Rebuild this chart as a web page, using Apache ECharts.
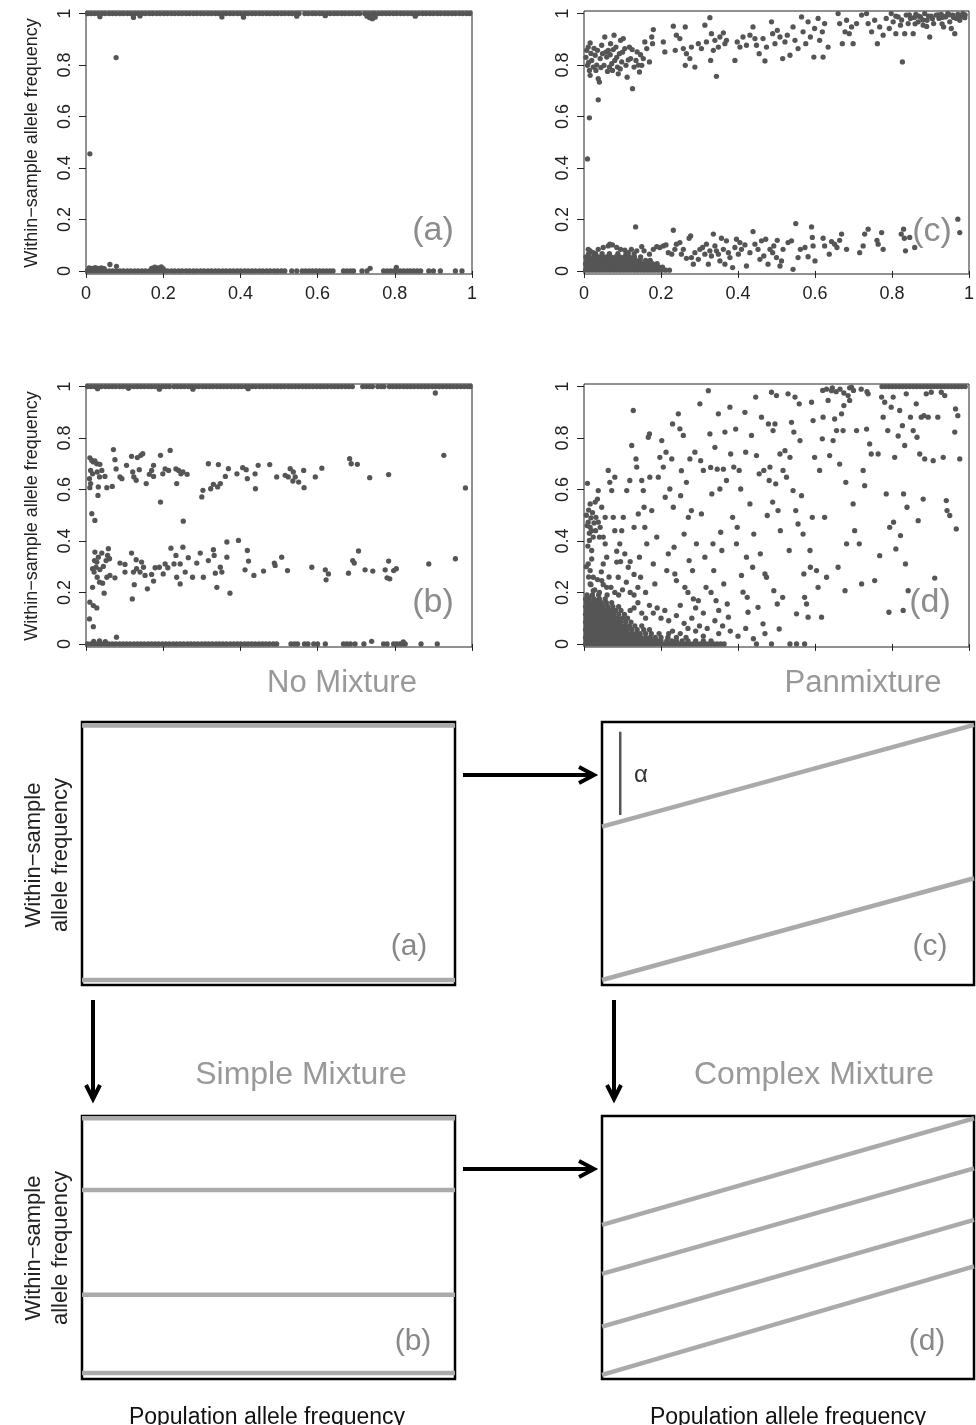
<!DOCTYPE html>
<html>
<head>
<meta charset="utf-8">
<script src="https://cdn.jsdelivr.net/npm/echarts@6/dist/echarts.min.js"></script>
<style>
html, body { margin: 0; padding: 0; background: #fff; }
#main { width: 976px; height: 1425px; }
</style>
</head>
<body>
<div id="main"></div>
<script>
// ---- data ----
var tickValues = [0, 0.2, 0.4, 0.6, 0.8, 1];

// (a) no mixture: points sitting on 1 and on 0, plus the few strays
var aTopX = [0.004,0.013,0.022,0.031,0.041,0.05,0.06,0.069,0.078,0.088,0.097,0.107,0.116,0.126,0.135,0.145,0.154,0.164,0.173,0.183,0.192,0.202,0.211,0.221,0.23,0.24,0.249,0.259,0.268,0.278,0.287,0.297,0.306,0.316,0.325,0.335,0.344,0.354,0.363,0.373,0.382,0.392,0.401,0.411,0.42,0.43,0.439,0.449,0.458,0.468,0.477,0.487,0.496,0.506,0.515,0.525,0.534,0.544,0.552,0.567,0.576,0.586,0.595,0.605,0.614,0.624,0.633,0.643,0.652,0.662,0.671,0.681,0.69,0.7,0.709,0.722,0.731,0.741,0.748,0.758,0.767,0.777,0.786,0.796,0.805,0.815,0.824,0.834,0.843,0.853,0.862,0.872,0.881,0.891,0.9,0.91,0.919,0.929,0.938,0.948,0.957,0.967,0.976,0.986,0.994];
var aBottomX = [0.004,0.013,0.022,0.031,0.041,0.05,0.06,0.069,0.078,0.088,0.097,0.107,0.116,0.126,0.135,0.145,0.154,0.164,0.173,0.183,0.192,0.202,0.211,0.221,0.23,0.24,0.249,0.259,0.268,0.278,0.287,0.297,0.306,0.316,0.325,0.335,0.344,0.354,0.363,0.373,0.382,0.392,0.401,0.411,0.42,0.43,0.439,0.449,0.458,0.468,0.477,0.487,0.496,0.506,0.515,0.533,0.546,0.56,0.569,0.578,0.587,0.596,0.605,0.614,0.623,0.632,0.64,0.667,0.676,0.685,0.693,0.715,0.728,0.771,0.78,0.789,0.798,0.806,0.814,0.823,0.832,0.84,0.849,0.858,0.867,0.888,0.9,0.918,0.957,0.974];
var aOther = [[0.036,0.988],[0.123,0.985],[0.14,0.991],[0.352,0.987],[0.408,0.986],[0.546,0.99],[0.62,0.992],[0.728,0.99],[0.735,0.984],[0.742,0.98],[0.749,0.986],[0.853,0.99],
  [0.008,0.012],[0.016,0.01],[0.024,0.013],[0.032,0.01],[0.04,0.012],[0.047,0.009],[0.062,0.025],[0.079,0.018],[0.17,0.01],[0.178,0.015],[0.186,0.012],[0.195,0.016],[0.2,0.009],[0.736,0.01],[0.804,0.014],
  [0.01,0.455],[0.078,0.829]];

// (b) simple mixture
var bTopX = [0.004,0.013,0.022,0.031,0.04,0.05,0.059,0.068,0.077,0.087,0.096,0.105,0.114,0.124,0.133,0.142,0.151,0.161,0.17,0.179,0.188,0.198,0.207,0.216,0.228,0.237,0.246,0.255,0.265,0.274,0.283,0.292,0.302,0.311,0.32,0.329,0.339,0.348,0.357,0.366,0.376,0.385,0.394,0.403,0.413,0.422,0.431,0.44,0.45,0.459,0.468,0.477,0.487,0.496,0.505,0.514,0.524,0.533,0.542,0.551,0.561,0.57,0.579,0.588,0.598,0.607,0.616,0.625,0.635,0.644,0.653,0.662,0.672,0.681,0.69,0.717,0.726,0.735,0.742,0.756,0.765,0.772,0.786,0.795,0.804,0.813,0.823,0.832,0.841,0.85,0.86,0.869,0.878,0.887,0.897,0.906,0.915,0.924,0.934,0.943,0.952,0.961,0.971,0.98,0.989,0.995];
var bBottomX = [0.004,0.013,0.022,0.031,0.04,0.05,0.059,0.068,0.077,0.087,0.096,0.105,0.114,0.124,0.133,0.142,0.151,0.161,0.17,0.179,0.188,0.198,0.207,0.216,0.226,0.235,0.244,0.253,0.263,0.272,0.281,0.29,0.3,0.309,0.318,0.327,0.337,0.346,0.355,0.364,0.374,0.383,0.392,0.401,0.411,0.42,0.429,0.438,0.448,0.457,0.466,0.475,0.485,0.494,0.531,0.54,0.548,0.566,0.575,0.59,0.6,0.62,0.667,0.676,0.685,0.697,0.72,0.771,0.78,0.797,0.805,0.813,0.82,0.827,0.868,0.91];
var bOther = [[0.03,0.992],[0.11,0.993],[0.19,0.99],[0.277,0.99],[0.42,0.992],[0.905,0.975],
  [0.02,0.01],[0.035,0.012],[0.05,0.009],[0.079,0.026],[0.74,0.01],[0.822,0.008],
  [0.01,0.723],[0.015,0.713],[0.019,0.707],[0.023,0.711],[0.028,0.7],[0.012,0.674],[0.017,0.661],[0.009,0.642],[0.012,0.623],[0.01,0.607],[0.029,0.668],[0.035,0.649],[0.032,0.61],[0.036,0.698],[0.041,0.674],[0.049,0.651],[0.054,0.607],[0.031,0.577],[0.068,0.612],[0.071,0.755],[0.075,0.716],[0.078,0.68],[0.088,0.649],[0.093,0.642],[0.105,0.694],[0.118,0.729],[0.121,0.668],[0.124,0.649],[0.13,0.636],[0.133,0.724],[0.138,0.677],[0.142,0.733],[0.147,0.739],[0.156,0.623],[0.164,0.659],[0.17,0.674],[0.175,0.694],[0.175,0.651],[0.193,0.733],[0.193,0.551],[0.199,0.661],[0.205,0.68],[0.218,0.752],[0.214,0.674],[0.233,0.68],[0.235,0.623],[0.24,0.674],[0.246,0.661],[0.251,0.668],[0.262,0.659],[0.3,0.571],[0.303,0.597],[0.317,0.7],[0.323,0.603],[0.33,0.62],[0.343,0.697],[0.341,0.61],[0.348,0.623],[0.361,0.651],[0.369,0.681],[0.391,0.661],[0.406,0.685],[0.415,0.677],[0.418,0.642],[0.438,0.661],[0.439,0.603],[0.446,0.694],[0.476,0.697],[0.494,0.649],[0.516,0.655],[0.524,0.649],[0.529,0.681],[0.537,0.668],[0.542,0.649],[0.536,0.633],[0.551,0.629],[0.564,0.674],[0.565,0.607],[0.594,0.649],[0.611,0.683],[0.683,0.72],[0.687,0.7],[0.703,0.698],[0.735,0.646],[0.784,0.658],[0.927,0.733],[0.983,0.606],
  [0.015,0.506],[0.023,0.48],[0.009,0.097],[0.01,0.162],[0.019,0.149],[0.028,0.14],[0.019,0.067],
  [0.017,0.22],[0.023,0.357],[0.022,0.324],[0.017,0.292],[0.021,0.279],[0.028,0.318],[0.026,0.298],[0.032,0.337],[0.029,0.259],[0.036,0.289],[0.035,0.24],[0.041,0.353],[0.045,0.301],[0.043,0.236],[0.047,0.197],[0.052,0.324],[0.056,0.344],[0.058,0.37],[0.061,0.331],[0.054,0.259],[0.062,0.266],[0.075,0.257],[0.088,0.314],[0.101,0.309],[0.101,0.279],[0.118,0.353],[0.12,0.175],[0.123,0.279],[0.125,0.23],[0.13,0.327],[0.131,0.292],[0.14,0.279],[0.144,0.318],[0.149,0.298],[0.153,0.266],[0.159,0.214],[0.17,0.27],[0.175,0.244],[0.179,0.296],[0.19,0.298],[0.2,0.272],[0.205,0.311],[0.212,0.296],[0.22,0.372],[0.228,0.311],[0.233,0.344],[0.235,0.259],[0.244,0.233],[0.244,0.311],[0.251,0.376],[0.252,0.477],[0.257,0.279],[0.265,0.335],[0.276,0.259],[0.287,0.314],[0.296,0.353],[0.304,0.259],[0.317,0.324],[0.33,0.366],[0.332,0.344],[0.335,0.275],[0.339,0.22],[0.348,0.298],[0.352,0.279],[0.365,0.396],[0.373,0.197],[0.365,0.337],[0.395,0.402],[0.412,0.288],[0.418,0.363],[0.421,0.322],[0.435,0.266],[0.46,0.283],[0.488,0.314],[0.49,0.305],[0.507,0.337],[0.522,0.285],[0.585,0.298],[0.62,0.288],[0.622,0.249],[0.628,0.272],[0.68,0.275],[0.691,0.324],[0.695,0.314],[0.706,0.361],[0.723,0.288],[0.743,0.283],[0.775,0.288],[0.78,0.257],[0.784,0.322],[0.787,0.253],[0.797,0.285],[0.804,0.292],[0.888,0.311],[0.957,0.331]];

// (c) complex mixture: upper arm, dense foot near 0, lower arm
var cUpper = [[0.007,0.857],[0.011,0.87],[0.016,0.886],[0.009,0.799],[0.014,0.779],[0.02,0.818],[0.024,0.792],[0.016,0.76],[0.029,0.838],[0.031,0.779],[0.035,0.857],[0.037,0.747],[0.04,0.734],[0.042,0.825],[0.046,0.877],[0.048,0.844],[0.052,0.799],[0.054,0.909],[0.059,0.831],[0.063,0.857],[0.066,0.792],[0.069,0.883],[0.072,0.805],[0.074,0.779],[0.078,0.916],[0.08,0.818],[0.083,0.87],[0.087,0.792],[0.089,0.766],[0.092,0.844],[0.095,0.896],[0.098,0.812],[0.102,0.903],[0.106,0.864],[0.109,0.799],[0.112,0.753],[0.118,0.87],[0.121,0.825],[0.126,0.708],[0.13,0.792],[0.135,0.818],[0.138,0.851],[0.144,0.773],[0.15,0.799],[0.154,0.825],[0.158,0.89],[0.163,0.864],[0.17,0.812],[0.176,0.909],[0.18,0.938],[0.178,0.883],
  [0.005,0.83],[0.012,0.81],[0.018,0.845],[0.026,0.865],[0.033,0.8],[0.044,0.79],[0.057,0.85],[0.061,0.775],[0.068,0.84],[0.076,0.86],[0.085,0.83],[0.094,0.785],[0.1,0.85],[0.115,0.82],[0.125,0.86],[0.141,0.8],[0.147,0.84],
  [0.206,0.89],[0.21,0.851],[0.232,0.951],[0.237,0.857],[0.24,0.916],[0.249,0.903],[0.258,0.864],[0.263,0.948],[0.263,0.799],[0.266,0.844],[0.275,0.825],[0.279,0.87],[0.288,0.792],[0.297,0.883],[0.305,0.864],[0.314,0.955],[0.318,0.89],[0.327,0.984],[0.329,0.818],[0.331,0.922],[0.336,0.857],[0.34,0.896],[0.344,0.756],[0.349,0.87],[0.353,0.909],[0.362,0.925],[0.366,0.883],[0.37,0.896],[0.392,0.818],[0.398,0.89],[0.405,0.87],[0.413,0.909],[0.422,0.877],[0.431,0.916],[0.439,0.948],[0.444,0.903],[0.448,0.877],[0.455,0.844],[0.465,0.903],[0.47,0.816],[0.474,0.87],[0.487,0.968],[0.49,0.922],[0.496,0.883],[0.502,0.935],[0.509,0.909],[0.516,0.825],[0.522,0.89],[0.528,0.916],[0.535,0.838],[0.543,0.948],[0.548,0.896],[0.556,0.864],[0.565,0.987],[0.569,0.929],[0.576,0.883],[0.582,0.968],[0.588,0.909],[0.597,0.831],[0.599,0.942],[0.608,0.981],[0.612,0.896],[0.619,0.929],[0.621,0.831],[0.625,0.961],[0.634,0.87],[0.66,1.0],[0.664,0.961],[0.671,0.883],[0.678,0.929],[0.682,0.974],[0.689,0.922],[0.695,0.948],[0.699,0.883],[0.708,0.961],[0.721,0.994],[0.734,1.0],[0.738,0.961],[0.747,0.929],[0.755,0.974],[0.762,0.883],[0.768,0.948],[0.777,0.916],[0.785,0.981],[0.793,0.942],[0.798,1.0],[0.803,0.968],[0.81,0.922],[0.816,0.987],[0.822,0.955],[0.827,0.812],[0.833,0.922],[0.837,0.994],[0.842,0.961],[0.848,0.981],[0.855,0.922],[0.862,0.997],[0.868,0.968],[0.874,0.987],[0.881,0.955],[0.885,1.0],[0.891,0.974],[0.898,0.909],[0.902,0.99],[0.908,0.961],[0.915,0.994],[0.922,0.981],[0.928,0.997],[0.934,0.948],[0.939,0.987],[0.945,1.0],[0.95,0.968],[0.954,0.942],[0.958,0.994],[0.963,0.922],[0.967,0.981],[0.971,0.997],[0.976,0.974],[0.98,0.99],[0.984,1.0],[0.989,0.984],
  [0.81,0.99],[0.825,0.975],[0.845,0.995],[0.858,0.985],[0.87,0.99],[0.88,0.975],[0.895,0.99],[0.905,0.98],[0.92,0.995],[0.93,0.985],[0.94,0.99],[0.95,0.995],[0.96,0.985],[0.975,0.99],[0.99,0.995],[0.86,0.96],[0.89,0.95],[0.93,0.96],
  [0.014,0.595],[0.009,0.435],[0.037,0.665]];
var cFootRows = [
  [0.003, [0.004,0.013,0.022,0.031,0.04,0.049,0.058,0.067,0.076,0.085,0.094,0.103,0.112,0.121,0.13,0.139,0.148,0.157,0.166,0.175,0.184,0.193,0.202,0.212,0.222]],
  [0.015, [0.006,0.015,0.024,0.033,0.042,0.051,0.06,0.069,0.078,0.087,0.096,0.105,0.114,0.123,0.132,0.141,0.15,0.159,0.168,0.177,0.186,0.195,0.204]],
  [0.028, [0.004,0.013,0.022,0.031,0.04,0.049,0.058,0.067,0.076,0.085,0.094,0.103,0.112,0.121,0.13,0.139,0.148,0.157,0.166,0.178,0.19]],
  [0.041, [0.007,0.016,0.025,0.034,0.043,0.052,0.061,0.07,0.079,0.088,0.097,0.106,0.115,0.124,0.135,0.146,0.16,0.172]],
  [0.054, [0.005,0.014,0.026,0.037,0.048,0.058,0.07,0.082,0.093,0.105,0.118,0.131,0.147]],
  [0.067, [0.012,0.03,0.047,0.066,0.088,0.109,0.13]]
];
var cLower = [[0.011,0.084],[0.016,0.078],[0.024,0.071],[0.037,0.084],[0.05,0.091],[0.063,0.097],[0.067,0.104],[0.074,0.101],[0.085,0.091],[0.095,0.084],[0.106,0.081],[0.115,0.071],[0.123,0.084],[0.134,0.171],[0.137,0.078],[0.15,0.094],[0.156,0.078],[0.17,0.065],[0.18,0.084],[0.189,0.094],[0.197,0.091],[0.206,0.097],[0.213,0.101],[0.219,0.071],[0.232,0.158],[0.228,0.065],[0.236,0.084],[0.24,0.104],[0.249,0.11],[0.253,0.065],[0.258,0.084],[0.266,0.049],[0.273,0.127],[0.277,0.136],[0.279,0.052],[0.284,0.026],[0.288,0.071],[0.297,0.045],[0.301,0.084],[0.308,0.091],[0.314,0.065],[0.318,0.104],[0.323,0.026],[0.327,0.078],[0.331,0.058],[0.336,0.143],[0.34,0.097],[0.344,0.078],[0.349,0.065],[0.353,0.039],[0.357,0.127],[0.362,0.084],[0.366,0.026],[0.37,0.117],[0.375,0.071],[0.379,0.052],[0.386,0.013],[0.392,0.091],[0.396,0.123],[0.401,0.065],[0.405,0.11],[0.409,0.084],[0.418,0.101],[0.422,0.019],[0.431,0.071],[0.439,0.153],[0.444,0.104],[0.452,0.084],[0.457,0.045],[0.461,0.117],[0.467,0.058],[0.472,0.123],[0.478,0.026],[0.483,0.084],[0.49,0.071],[0.493,0.097],[0.5,0.052],[0.502,0.119],[0.509,0.019],[0.513,0.039],[0.517,0.084],[0.53,0.11],[0.539,0.117],[0.543,0.006],[0.55,0.184],[0.556,0.052],[0.562,0.084],[0.574,0.091],[0.582,0.055],[0.591,0.171],[0.593,0.13],[0.595,0.097],[0.6,0.039],[0.621,0.127],[0.625,0.097],[0.637,0.065],[0.643,0.114],[0.651,0.104],[0.657,0.091],[0.664,0.119],[0.669,0.143],[0.682,0.084],[0.716,0.071],[0.725,0.097],[0.729,0.143],[0.738,0.162],[0.761,0.119],[0.764,0.104],[0.773,0.149],[0.777,0.084],[0.824,0.143],[0.83,0.162],[0.832,0.127],[0.835,0.078],[0.846,0.13],[0.859,0.091],[0.971,0.201],[0.976,0.149]];

// (d) panmixture
var dTopX = [0.774,0.783,0.792,0.801,0.81,0.819,0.828,0.837,0.846,0.855,0.864,0.873,0.882,0.891,0.9,0.909,0.918,0.927,0.936,0.945,0.954,0.963,0.972,0.981,0.99];
var dBottomX = [0.004,0.013,0.022,0.031,0.04,0.049,0.058,0.067,0.076,0.085,0.094,0.103,0.112,0.121,0.13,0.139,0.148,0.157,0.166,0.175,0.184,0.193,0.202,0.211,0.22,0.229,0.238,0.247,0.256,0.265,0.274,0.283,0.292,0.301,0.31,0.319,0.328,0.337,0.346,0.355,0.364,0.448,0.487,0.535,0.552,0.573];
var dFootRows = [
  [0.012, [0.006,0.015,0.024,0.033,0.042,0.051,0.06,0.069,0.078,0.087,0.096,0.105,0.114,0.123,0.132,0.141,0.15,0.159,0.168,0.18,0.19,0.2,0.215,0.228,0.24,0.255,0.27,0.29,0.31,0.33]],
  [0.025, [0.004,0.013,0.022,0.031,0.04,0.049,0.058,0.067,0.076,0.085,0.094,0.103,0.112,0.121,0.13,0.139,0.148,0.16,0.172,0.185,0.2,0.218,0.24,0.265]],
  [0.04,  [0.006,0.015,0.024,0.033,0.042,0.051,0.06,0.069,0.078,0.087,0.096,0.105,0.114,0.123,0.134,0.146,0.16,0.175,0.195,0.22]],
  [0.055, [0.004,0.013,0.022,0.031,0.04,0.049,0.058,0.067,0.076,0.085,0.094,0.103,0.112,0.124,0.138,0.155,0.17]],
  [0.07,  [0.006,0.015,0.024,0.033,0.042,0.051,0.06,0.069,0.078,0.087,0.096,0.106,0.118,0.132,0.15]],
  [0.085, [0.004,0.013,0.022,0.031,0.04,0.049,0.058,0.067,0.076,0.085,0.095,0.108,0.122]],
  [0.1,   [0.006,0.015,0.024,0.033,0.042,0.051,0.06,0.069,0.078,0.088,0.1,0.113]],
  [0.115, [0.004,0.013,0.022,0.031,0.04,0.049,0.058,0.067,0.077,0.09,0.105]],
  [0.13,  [0.006,0.015,0.024,0.033,0.042,0.051,0.06,0.07,0.082,0.096]],
  [0.145, [0.004,0.013,0.022,0.031,0.04,0.05,0.062,0.075,0.09]],
  [0.16,  [0.006,0.015,0.024,0.034,0.045,0.058,0.072]],
  [0.175, [0.004,0.014,0.026,0.04,0.055]],
  [0.19,  [0.008,0.022,0.038]]
];
var dOther = [[0.62,0.985],[0.63,0.99],[0.645,0.995],[0.655,0.98],[0.665,0.99],[0.675,0.975],[0.69,0.995],[0.7,0.985],[0.72,0.99],[0.735,0.98],
  [0.009,0.624],[0.016,0.544],[0.011,0.473],[0.016,0.453],[0.02,0.44],[0.024,0.415],[0.014,0.402],[0.02,0.363],[0.011,0.311],[0.016,0.285],[0.024,0.259],[0.016,0.233],[0.024,0.207],[0.011,0.181],[0.033,0.168],[0.029,0.551],[0.035,0.563],[0.031,0.492],[0.037,0.473],[0.042,0.453],[0.04,0.415],[0.037,0.596],[0.046,0.531],[0.05,0.415],[0.055,0.492],[0.055,0.389],[0.059,0.337],[0.05,0.311],[0.046,0.246],[0.059,0.22],[0.063,0.674],[0.067,0.628],[0.072,0.596],[0.076,0.492],[0.08,0.44],[0.08,0.648],[0.085,0.318],[0.089,0.259],[0.093,0.389],[0.098,0.44],[0.102,0.492],[0.106,0.35],[0.111,0.596],[0.115,0.298],[0.119,0.635],[0.124,0.771],[0.128,0.907],[0.13,0.453],[0.135,0.719],[0.137,0.687],[0.141,0.505],[0.144,0.337],[0.147,0.259],[0.15,0.635],[0.154,0.596],[0.156,0.531],[0.158,0.453],[0.163,0.389],[0.167,0.803],[0.17,0.816],[0.171,0.648],[0.176,0.518],[0.18,0.311],[0.184,0.233],[0.189,0.415],[0.193,0.648],[0.197,0.725],[0.202,0.79],[0.206,0.687],[0.211,0.57],[0.213,0.745],[0.215,0.285],[0.219,0.35],[0.223,0.602],[0.228,0.719],[0.23,0.855],[0.232,0.531],[0.234,0.376],[0.236,0.272],[0.24,0.246],[0.245,0.894],[0.249,0.836],[0.251,0.576],[0.253,0.673],[0.258,0.81],[0.26,0.427],[0.262,0.22],[0.266,0.628],[0.271,0.492],[0.273,0.324],[0.275,0.719],[0.279,0.518],[0.282,0.285],[0.284,0.175],[0.288,0.745],[0.292,0.389],[0.297,0.168],[0.301,0.933],[0.303,0.712],[0.305,0.505],[0.31,0.674],[0.314,0.337],[0.317,0.22],[0.323,0.984],[0.327,0.816],[0.329,0.686],[0.332,0.583],[0.335,0.389],[0.337,0.285],[0.34,0.764],[0.343,0.168],[0.346,0.679],[0.349,0.894],[0.353,0.602],[0.355,0.434],[0.358,0.363],[0.362,0.679],[0.363,0.233],[0.366,0.823],[0.37,0.635],[0.372,0.155],[0.375,0.104],[0.379,0.92],[0.381,0.738],[0.386,0.492],[0.389,0.687],[0.394,0.835],[0.396,0.389],[0.398,0.453],[0.403,0.674],[0.407,0.602],[0.409,0.266],[0.413,0.201],[0.418,0.9],[0.42,0.745],[0.422,0.337],[0.424,0.181],[0.426,0.123],[0.431,0.544],[0.435,0.81],[0.438,0.298],[0.441,0.427],[0.446,0.959],[0.448,0.732],[0.452,0.142],[0.455,0.661],[0.458,0.35],[0.461,0.881],[0.465,0.078],[0.467,0.674],[0.47,0.272],[0.474,0.259],[0.476,0.499],[0.479,0.855],[0.481,0.635],[0.483,0.687],[0.487,0.978],[0.49,0.551],[0.491,0.829],[0.493,0.207],[0.496,0.855],[0.498,0.622],[0.5,0.965],[0.502,0.155],[0.504,0.518],[0.507,0.058],[0.509,0.738],[0.51,0.44],[0.516,0.181],[0.517,0.674],[0.522,0.751],[0.526,0.648],[0.53,0.972],[0.533,0.363],[0.535,0.725],[0.539,0.861],[0.543,0.596],[0.545,0.823],[0.548,0.959],[0.55,0.518],[0.552,0.117],[0.556,0.466],[0.559,0.933],[0.561,0.79],[0.565,0.576],[0.569,0.427],[0.571,0.272],[0.573,0.181],[0.578,0.155],[0.582,0.104],[0.587,0.363],[0.588,0.298],[0.591,0.939],[0.593,0.492],[0.595,0.868],[0.599,0.725],[0.604,0.285],[0.608,0.22],[0.612,0.674],[0.617,0.104],[0.619,0.797],[0.621,0.881],[0.625,0.492],[0.63,0.259],[0.634,0.946],[0.638,0.732],[0.643,0.984],[0.647,0.79],[0.651,0.874],[0.656,0.829],[0.66,0.298],[0.664,0.699],[0.669,0.894],[0.673,0.829],[0.675,0.926],[0.678,0.207],[0.68,0.628],[0.682,0.389],[0.686,0.965],[0.69,0.946],[0.695,0.997],[0.699,0.544],[0.703,0.44],[0.708,0.829],[0.715,0.389],[0.721,0.233],[0.725,0.674],[0.729,0.615],[0.734,0.835],[0.738,0.972],[0.742,0.777],[0.746,0.738],[0.755,0.246],[0.764,0.738],[0.768,0.343],[0.773,0.959],[0.777,0.881],[0.781,0.939],[0.785,0.583],[0.789,0.829],[0.792,0.123],[0.794,0.453],[0.798,0.92],[0.803,0.959],[0.804,0.473],[0.807,0.725],[0.81,0.369],[0.816,0.808],[0.82,0.907],[0.822,0.421],[0.827,0.848],[0.829,0.13],[0.83,0.583],[0.833,0.771],[0.835,0.311],[0.837,0.972],[0.839,0.531],[0.842,0.207],[0.848,0.881],[0.855,0.829],[0.863,0.933],[0.865,0.803],[0.868,0.479],[0.872,0.738],[0.876,0.881],[0.881,0.563],[0.883,0.887],[0.885,0.719],[0.889,0.972],[0.894,0.881],[0.902,0.978],[0.907,0.712],[0.911,0.256],[0.919,0.881],[0.928,0.978],[0.933,0.725],[0.937,0.965],[0.941,0.557],[0.943,0.518],[0.95,0.499],[0.963,0.823],[0.965,0.913],[0.967,0.447],[0.971,0.887],[0.976,0.719],
  [0.006,0.5],[0.012,0.52],[0.008,0.46],[0.014,0.43],[0.01,0.38],[0.018,0.49],[0.022,0.51],[0.026,0.47],[0.03,0.44],[0.02,0.33],[0.006,0.3],[0.012,0.26],[0.018,0.23],[0.028,0.21],[0.035,0.25],[0.04,0.2],[0.045,0.28],[0.05,0.23],[0.06,0.19],[0.07,0.22],[0.065,0.26],[0.08,0.2],[0.09,0.19],[0.1,0.21],[0.11,0.24],[0.12,0.2],[0.13,0.19],[0.085,0.36],[0.095,0.32],[0.12,0.32],[0.13,0.27],[0.14,0.22],[0.16,0.2],[0.17,0.15],[0.18,0.12],[0.19,0.14],[0.2,0.1],[0.21,0.13],[0.22,0.09],[0.24,0.11],[0.26,0.08],[0.28,0.1],[0.3,0.07],[0.32,0.06],[0.34,0.09],[0.36,0.07],[0.25,0.15],[0.27,0.2],[0.29,0.14],[0.31,0.12],[0.33,0.2],[0.35,0.13],[0.15,0.12],[0.16,0.1],[0.14,0.16],[0.13,0.14],[0.12,0.13],[0.23,0.05],[0.25,0.04],[0.27,0.06],[0.29,0.05],[0.31,0.03],[0.35,0.04],[0.38,0.05],[0.4,0.03],[0.42,0.06],[0.44,0.02],[0.47,0.04]];

// schematic lines: [value at left edge, value at right edge]
var sketchA = [[0.987, 0.987], [0.019, 0.019]];
var sketchB = [[0.991, 0.991], [0.719, 0.719], [0.32, 0.32], [0.023, 0.023]];
var sketchC = [[0.602, 0.989], [0.019, 0.406]];
var sketchD = [[0.586, 0.991], [0.4, 0.801], [0.199, 0.605], [0.016, 0.428]];
var alphaBar = [[0.049, 0.646], [0.049, 0.963]];

// ---- helpers ----
var FONT = "'Liberation Sans', Arial, Helvetica, sans-serif";
function onLevel(xs, y) { return xs.map(function (x) { return [x, y]; }); }
function fromRows(rows) {
    var out = [];
    rows.forEach(function (r) { r[1].forEach(function (x) { out.push([x, r[0]]); }); });
    return out;
}

var myChart = echarts.init(document.getElementById('main'), null, { renderer: 'canvas' });

var grids = [
    { left: 86, top: 11, width: 386, height: 263 },
    { left: 584, top: 11, width: 385, height: 263 },
    { left: 86, top: 384, width: 386, height: 263 },
    { left: 584, top: 384, width: 385, height: 263 },
    { left: 82, top: 722, width: 373, height: 263 },
    { left: 602, top: 722, width: 372, height: 263 },
    { left: 82, top: 1116, width: 373, height: 263 },
    { left: 602, top: 1116, width: 372, height: 263 }
].map(function (g, i) {
    g.show = true;
    g.containLabel = false;
    g.outerBoundsMode = 'none';
    g.backgroundColor = 'transparent';
    g.borderColor = i < 4 ? '#222' : '#000';
    g.borderWidth = i < 4 ? 1 : 2.5;
    return g;
});

var xAxes = [], yAxes = [];
for (var i = 0; i < 8; i++) {
    if (i < 4) {
        xAxes.push({
            gridIndex: i, type: 'value', min: 0, max: 1,
            axisLine: { show: false },
            axisTick: { show: true, length: 7, customValues: tickValues, lineStyle: { color: '#222', width: 1 } },
            axisLabel: { show: i < 2, customValues: tickValues, margin: 11, fontSize: 18, color: '#222', fontFamily: FONT },
            splitLine: { show: false }
        });
        yAxes.push({
            gridIndex: i, type: 'value', min: -0.012, max: 1.01,
            axisLine: { show: false },
            axisTick: { show: true, length: 7, customValues: tickValues, lineStyle: { color: '#222', width: 1 } },
            axisLabel: { show: true, rotate: 90, customValues: tickValues, margin: 12, fontSize: 18, color: '#222', fontFamily: FONT },
            splitLine: { show: false }
        });
    } else {
        xAxes.push({ gridIndex: i, type: 'value', min: 0, max: 1, show: false });
        yAxes.push({ gridIndex: i, type: 'value', min: 0, max: 1, show: false });
    }
}

function dots(idx, data) {
    return {
        type: 'scatter', xAxisIndex: idx, yAxisIndex: idx, data: data,
        symbol: 'circle', symbolSize: 5.3, silent: true,
        itemStyle: { color: '#555', opacity: 1 }
    };
}
function sketchLines(idx, lines) {
    return lines.map(function (l) {
        return {
            type: 'line', xAxisIndex: idx, yAxisIndex: idx,
            data: [[0, l[0]], [1, l[1]]],
            symbol: 'none', silent: true,
            lineStyle: { color: '#aaa', width: 4.5, cap: 'butt' }
        };
    });
}

var series = [
    dots(0, onLevel(aTopX, 1).concat(onLevel(aBottomX, 0), aOther)),
    dots(1, cUpper.concat(fromRows(cFootRows), cLower)),
    dots(2, onLevel(bTopX, 1).concat(onLevel(bBottomX, 0), bOther)),
    dots(3, onLevel(dTopX, 1).concat(onLevel(dBottomX, 0), fromRows(dFootRows), dOther))
].concat(
    sketchLines(4, sketchA),
    sketchLines(5, sketchC),
    sketchLines(6, sketchB),
    sketchLines(7, sketchD),
    [{
        type: 'line', xAxisIndex: 5, yAxisIndex: 5, data: alphaBar,
        symbol: 'none', silent: true, lineStyle: { color: '#555', width: 2.5 }
    }]
);

function txt(x, y, s, size, color, rot) {
    return {
        type: 'text', x: x, y: y, rotation: rot || 0, silent: true,
        style: { text: s, font: size + 'px ' + FONT, fill: color, textAlign: 'center', textVerticalAlign: 'middle' }
    };
}
function arrow(x1, y1, x2, y2, head) {
    return [
        { type: 'line', silent: true, shape: { x1: x1, y1: y1, x2: x2, y2: y2 }, style: { stroke: '#000', lineWidth: 4 } },
        { type: 'polyline', silent: true, shape: { points: head }, style: { stroke: '#000', lineWidth: 4, fill: null } }
    ];
}

var R90 = Math.PI / 2;
var graphics = [
    txt(32, 143, 'Within\u2212sample allele frequency', 18, '#222', R90),
    txt(32, 516, 'Within\u2212sample allele frequency', 18, '#222', R90),
    txt(433, 231, '(a)', 34, '#8c8c8c'),
    txt(932, 232, '(c)', 34, '#8c8c8c'),
    txt(433, 603, '(b)', 34, '#8c8c8c'),
    txt(930, 603, '(d)', 34, '#8c8c8c'),
    txt(342, 683, 'No Mixture', 31, '#999'),
    txt(863, 683, 'Panmixture', 31, '#999'),
    txt(34, 855, 'Within\u2212sample', 22, '#222', R90),
    txt(61, 855, 'allele frequency', 22, '#222', R90),
    txt(34, 1248, 'Within\u2212sample', 22, '#222', R90),
    txt(61, 1248, 'allele frequency', 22, '#222', R90),
    txt(409, 947, '(a)', 30, '#888'),
    txt(930, 947, '(c)', 30, '#888'),
    txt(413, 1342, '(b)', 30, '#888'),
    txt(927, 1342, '(d)', 30, '#888'),
    txt(301, 1075, 'Simple Mixture', 32, '#999'),
    txt(814, 1075, 'Complex Mixture', 32, '#999'),
    txt(641, 775, '\u03b1', 24, '#333'),
    txt(267, 1418, 'Population allele frequency', 23, '#111'),
    txt(788, 1418, 'Population allele frequency', 23, '#111')
].concat(
    arrow(463, 775, 592, 775, [[579, 767], [594, 775], [579, 783]]),
    arrow(463, 1169, 592, 1169, [[579, 1161], [594, 1169], [579, 1177]]),
    arrow(93, 1000, 93, 1097, [[86, 1085], [93, 1099], [100, 1085]]),
    arrow(614, 1000, 614, 1097, [[607, 1085], [614, 1099], [621, 1085]])
);

var option = {
    backgroundColor: '#fff',
    animation: false,
    grid: grids,
    xAxis: xAxes,
    yAxis: yAxes,
    series: series,
    graphic: graphics
};

myChart.setOption(option);
</script>
</body>
</html>
